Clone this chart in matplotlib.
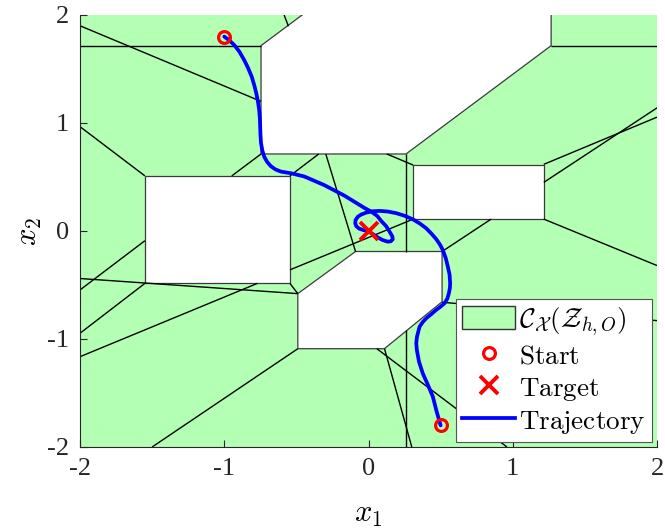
import matplotlib
matplotlib.use("Agg")
import matplotlib.pyplot as plt
from matplotlib.patches import Polygon, Rectangle, Patch
from matplotlib.lines import Line2D
from matplotlib.collections import LineCollection

plt.rcParams['font.family'] = 'Liberation Serif'
plt.rcParams['mathtext.fontset'] = 'cm'
plt.rcParams['axes.unicode_minus'] = False

# obstacles (white), everything else in the box is free space;
# the top obstacle pokes past the frame so its edge there gets clipped
obs_top = [(-0.44, 2.02), (1.266, 2.02), (1.266, 1.716), (0.26, 0.713),
           (-0.745, 0.713), (-0.745, 1.716)]
obs_left = [(-1.55, -0.485), (-0.545, -0.485), (-0.545, 0.51), (-1.55, 0.51)]
obs_right = [(0.31, 0.11), (1.215, 0.11), (1.215, 0.61), (0.31, 0.61)]
obs_bottom = [(-0.09, -0.19), (0.51, -0.19), (0.51, -0.655), (0.11, -1.09),
              (-0.49, -1.09), (-0.49, -0.58)]
obstacles = [obs_top, obs_left, obs_right, obs_bottom]

# cell boundaries of the partition of the free space
cell_edges = [
    [(-2, 1.716), (-0.745, 1.716)],
    [(1.266, 1.716), (2, 1.716)],
    [(-2, 1.90), (-0.745, 1.20)],
    [(-0.585, 2.0), (-0.555, 1.895)],
    [(-2, 0.966), (-1.55, 0.51)],
    [(-0.948, 0.51), (-0.745, 0.713)],
    [(-0.545, 0.51), (-0.345, 0.713)],
    [(-0.296, 0.713), (-0.09, -0.19)],
    [(0.127, 0.713), (0.31, 0.61)],
    [(0.26, 0.713), (0.26, -0.19)],
    [(-0.545, -0.36), (0.31, 0.11)],
    [(-0.545, -0.485), (-0.49, -0.58)],
    [(-2, -0.44), (-0.49, -0.58)],
    [(-2, -0.546), (-1.55, -0.09)],
    [(-2, -0.947), (-1.55, -0.485)],
    [(-2, -1.164), (-0.77, -0.485)],
    [(-1.50, -2), (-0.49, -1.09)],
    [(0.51, -0.19), (0.85, 0.11)],
    [(1.215, 0.11), (2, -0.32)],
    [(1.215, 0.617), (2, 1.054)],
    [(1.215, 0.45), (2, 1.14)],
    [(0.51, -0.66), (2, -0.83)],
    [(0.058, -1.09), (0.96, -2)],
    [(0.111, -1.09), (0.30, -2)],
    [(0.26, -0.92), (0.26, -2)],
]

# closed-loop trajectories
traj1_x = [-1.0, -0.965, -0.931, -0.895, -0.862, -0.835, -0.81, -0.792, -0.778,
           -0.766, -0.758, -0.753, -0.751, -0.749, -0.745, -0.736, -0.723, -0.703,
           -0.677, -0.645, -0.608, -0.539, -0.446, -0.307, -0.168, -0.03, 0.019,
           0.06, 0.088, 0.122, 0.146, 0.165, 0.168, 0.155, 0.134, 0.1, 0.064,
           0.02, 0.0]
traj1_y = [1.8, 1.765, 1.722, 1.66, 1.583, 1.51, 1.43, 1.35, 1.275,
           1.195, 1.12, 1.04, 0.966, 0.89, 0.812, 0.745, 0.688, 0.64,
           0.6, 0.57, 0.55, 0.535, 0.505, 0.425, 0.328, 0.215, 0.179,
           0.14, 0.093, 0.045, -0.006, -0.05, -0.077, -0.095, -0.099, -0.085, -0.06,
           -0.02, 0.0]
traj2_x = [0.5, 0.472, 0.446, 0.41, 0.376, 0.35, 0.335, 0.331, 0.336, 0.354,
           0.375, 0.40, 0.435, 0.469, 0.5, 0.527, 0.547, 0.557, 0.564, 0.566,
           0.562, 0.55, 0.535, 0.515, 0.495, 0.469, 0.44, 0.40, 0.357, 0.307,
           0.252, 0.192, 0.135, 0.076, 0.025, -0.016, -0.05, -0.074, -0.09,
           -0.092, -0.085, -0.065, -0.035, 0.0]
traj2_y = [-1.8, -1.67, -1.534, -1.42, -1.318, -1.21, -1.102, -1.04, -0.979, -0.886,
           -0.845, -0.808, -0.77, -0.731, -0.7, -0.669, -0.625, -0.577, -0.53, -0.484,
           -0.405, -0.33, -0.25, -0.176, -0.125, -0.075, -0.03, 0.025, 0.068, 0.108,
           0.14, 0.165, 0.18, 0.186, 0.182, 0.17, 0.153, 0.132, 0.1,
           0.071, 0.045, 0.022, 0.008, 0.0]

starts_x = [-1.0, 0.5]
starts_y = [1.8, -1.8]
target = (0.0, 0.0)

green = (0.7, 1.0, 0.7)

fig = plt.figure(figsize=(6.65, 5.31), dpi=100)
ax = fig.add_axes([0.1203, 0.1582, 0.8677, 0.8136])

ax.add_patch(Rectangle((-2, -2), 4, 4, facecolor=green, edgecolor='none', zorder=0))
for poly in obstacles:
    ax.add_patch(Polygon(poly, closed=True, facecolor='white',
                         edgecolor='#3a3a3a', linewidth=0.9, zorder=1))
ax.add_collection(LineCollection(cell_edges, colors='k', linewidths=1.0, zorder=2))

ax.plot(traj1_x, traj1_y, color='b', linewidth=2.7, zorder=3,
        solid_joinstyle='round', solid_capstyle='round')
ax.plot(traj2_x, traj2_y, color='b', linewidth=2.7, zorder=3,
        solid_joinstyle='round', solid_capstyle='round')
ax.plot(starts_x, starts_y, 'o', markersize=8.5, markerfacecolor='none',
        markeredgecolor='r', markeredgewidth=2.3, zorder=4)
ax.plot(*target, 'x', markersize=13, markeredgecolor='r', markeredgewidth=2.8, zorder=4)

ax.set_xlim(-2, 2)
ax.set_ylim(-2, 2)
ax.set_xticks([-2, -1, 0, 1, 2])
ax.set_yticks([-2, -1, 0, 1, 2])
ax.tick_params(direction='in', length=5, labelsize=19, colors='#262626', pad=8)
for side in ['top', 'right']:
    ax.spines[side].set_visible(False)
for side in ['left', 'bottom']:
    ax.spines[side].set_color('#262626')
    ax.spines[side].set_zorder(5)
ax.set_xlabel(r'$x_1$', fontsize=22, labelpad=14)
ax.set_ylabel(r'$x_2$', fontsize=22, labelpad=2)

handles = [
    Patch(facecolor=green, edgecolor='#333333', linewidth=1.0),
    Line2D([], [], marker='o', linestyle='none', markersize=8.5, markerfacecolor='none',
           markeredgecolor='r', markeredgewidth=2.3),
    Line2D([], [], marker='x', linestyle='none', markersize=13,
           markeredgecolor='r', markeredgewidth=2.8),
    Line2D([], [], color='b', linewidth=2.7),
]
labels = [r'$\mathcal{C}_{\mathcal{X}}(\mathcal{Z}_{h,O})$', r'$\mathrm{Start}$',
          r'$\mathrm{Target}$', r'$\mathrm{Trajectory}$']
leg = ax.legend(handles, labels, loc='lower right', fontsize=19.5, fancybox=False,
                framealpha=1, edgecolor='#555555', handlelength=1.95, handleheight=0.9,
                borderaxespad=0.2, borderpad=0.22, labelspacing=0.2, handletextpad=0.15)
leg.set_zorder(6)
leg.get_frame().set_linewidth(0.8)

fig.savefig('out.png', dpi=100)
